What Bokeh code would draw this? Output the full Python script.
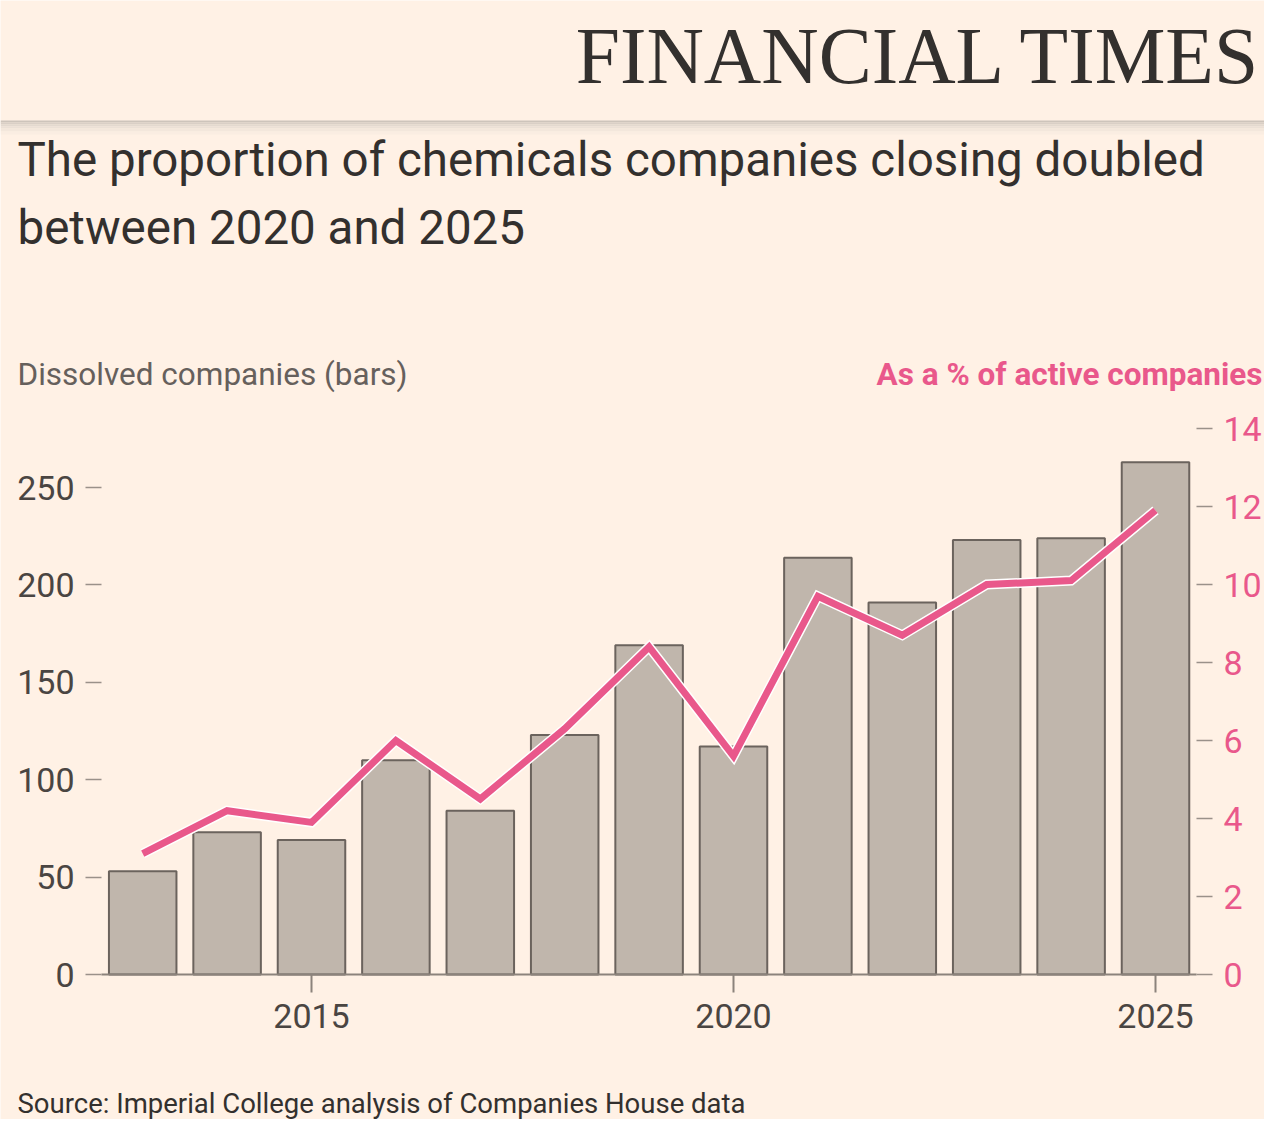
from bokeh.plotting import figure
from bokeh.models import Range1d, LinearAxis, FixedTicker, ColumnDataSource
from bokeh.core.properties import value
from bokeh.embed import file_html
from bokeh.resources import INLINE

# ---- data ----
years = [2013, 2014, 2015, 2016, 2017, 2018, 2019, 2020, 2021, 2022, 2023, 2024, 2025]
dissolved = [53, 73, 69, 110, 84, 123, 169, 117, 214, 191, 223, 224, 263]
pct_active = [3.1, 4.2, 3.9, 6.0, 4.5, 6.3, 8.4, 5.6, 9.7, 8.7, 10.0, 10.1, 11.9]
left_ticks = [0, 50, 100, 150, 200, 250]
right_ticks = [0, 2, 4, 6, 8, 10, 12, 14]
year_ticks = [2015, 2020, 2025]

title_lines = ["The proportion of chemicals companies closing doubled", "between 2020 and 2025"]
left_label = "Dissolved companies (bars)"
right_label = "As a % of active companies"
source_text = "Source: Imperial College analysis of Companies House data"
brand = "FINANCIAL TIMES"

BG = "#fff1e5"
DARK = "#33302e"
GREY = "#66605c"
PINK = "#e9588b"
BAR_FILL = "#c0b6ac"
BAR_LINE = "#6b635d"
TICK = "#9a918a"
AXIS = "#8c837c"
LABEL = "#4a4542"
FONT = "Roboto"

# ---- page geometry (pixels) ----
W, H = 1264, 1119
X2015, PX_YEAR = 311.0, 84.4      # x pixel of 2015, pixels per year
Y0 = 974.0                        # pixel of the zero baseline
PX_LEFT_UNIT = 1.948              # pixels per dissolved company
PX_RIGHT_UNIT = 39.0              # pixels per percentage point
PLOT_L, PLOT_R = 101.0, 1196.0    # extent of the chart area


def xdata(px):
    return 2015 + (px - X2015) / PX_YEAR


src = ColumnDataSource(dict(year=years, dissolved=dissolved, pct=pct_active))

p = figure(width=W, height=H, output_backend="svg", toolbar_location=None, title=None,
           x_axis_type=None, y_axis_type=None,
           x_range=Range1d(xdata(0), xdata(W)),
           y_range=Range1d(-(H - Y0) / PX_LEFT_UNIT, Y0 / PX_LEFT_UNIT),
           min_border=0)
p.background_fill_color = BG
p.border_fill_color = BG
p.outline_line_color = None
p.extra_y_ranges = {"pct": Range1d(-(H - Y0) / PX_RIGHT_UNIT, Y0 / PX_RIGHT_UNIT),
                    "pxy": Range1d(H, 0)}
p.extra_x_ranges = {"pxx": Range1d(0, W)}


def style_axis(ax, color, size="34px", tick_out=16, standoff=11, tick_color=TICK, tick_w=1.5):
    ax.major_tick_in = 0
    ax.major_tick_out = tick_out
    ax.minor_tick_line_color = None
    ax.major_tick_line_color = tick_color
    ax.major_tick_line_width = tick_w
    ax.major_label_standoff = standoff
    ax.major_label_text_font = FONT
    ax.major_label_text_font_size = size
    ax.major_label_text_color = color


# left axis (dissolved companies)
ya = LinearAxis(ticker=FixedTicker(ticks=left_ticks), fixed_location=xdata(PLOT_L),
                bounds=(0, 280))
ya.axis_line_color = None
style_axis(ya, LABEL)
p.add_layout(ya, "left")

# right axis (% of active companies)
ra = LinearAxis(y_range_name="pct", ticker=FixedTicker(ticks=right_ticks),
                fixed_location=xdata(PLOT_R), bounds=(0, 14.5))
ra.axis_line_color = None
style_axis(ra, PINK)
p.add_layout(ra, "right")

# bottom axis (years)
xa = LinearAxis(ticker=FixedTicker(ticks=year_ticks), fixed_location=0,
                bounds=(xdata(PLOT_L), xdata(PLOT_R)))
xa.axis_line_color = AXIS
xa.axis_line_width = 2
style_axis(xa, LABEL, tick_out=18, standoff=11, tick_color=AXIS, tick_w=2)
p.add_layout(xa, "below")

# bars
p.vbar(x="year", top="dissolved", bottom=0, width=0.8, source=src,
       fill_color=BAR_FILL, line_color=BAR_LINE, line_width=2)

# line with a thin white casing
p.line(x="year", y="pct", source=src, y_range_name="pct", line_color="white",
       line_width=10, line_join="miter")
p.line(x="year", y="pct", source=src, y_range_name="pct", line_color=PINK,
       line_width=7, line_join="miter")


# ---- header, titles, source (pixel ranges) ----
def txt(x, y, s, size, color=DARK, align="left", font=FONT, style="normal"):
    p.text(x=[x], y=[y], text=[s], x_range_name="pxx", y_range_name="pxy",
           text_align=align, text_baseline="middle",
           text_font=value(font), text_font_size=value(size), text_font_style=style,
           text_color=color)


shades = [(120, 122, "#cdc4bb"), (122, 124, "#d9cfc6"), (124, 126, "#e3d9cf"),
          (126, 128, "#ebe0d6"), (128, 131, "#f3e7dc"), (131, 134, "#faede2")]
for t, b, c in shades:
    p.quad(left=[0], right=[W], top=[t], bottom=[b], x_range_name="pxx",
           y_range_name="pxy", fill_color=c, line_color=None)

txt(1262, 55, brand, "79.5px", DARK, "right", "Liberation Serif")
txt(17, 159, title_lines[0], "47.5px")
txt(17, 227, title_lines[1], "47.5px")
txt(17, 374, left_label, "31.5px", GREY)
txt(1262, 374, right_label, "31.5px", PINK, "right", style="bold")
txt(17, 1103, source_text, "27.5px", DARK)

open("out.html", "w").write(file_html(p, INLINE))
